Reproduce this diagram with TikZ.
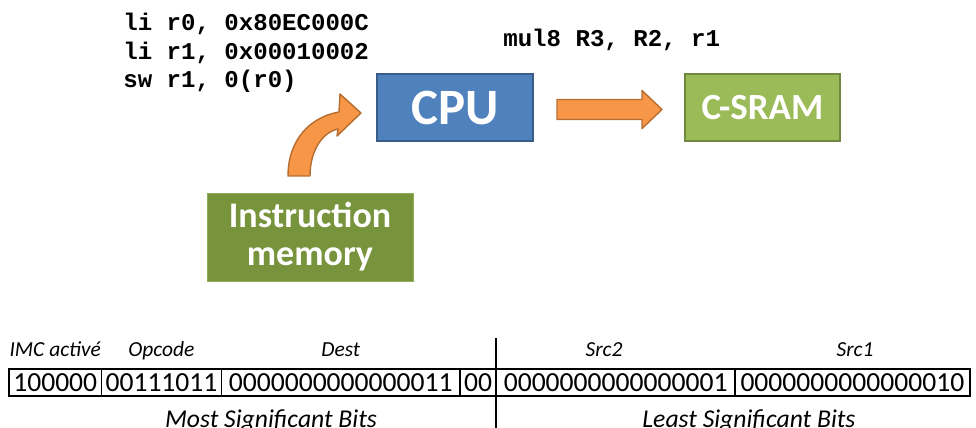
\documentclass[tikz,border=0pt]{standalone}
\usepackage{fontspec}
\setmainfont{Carlito}
\newfontfamily\codefont{Liberation Mono}
\usetikzlibrary{positioning,calc}
\definecolor{cpublue}{HTML}{4F81BD}
\definecolor{cpuedge}{HTML}{385D8A}
\definecolor{sramgreen}{HTML}{9BBB59}
\definecolor{sramedge}{HTML}{71893F}
\definecolor{memgreen}{HTML}{77933C}
\definecolor{memedge}{HTML}{8FAE55}
\definecolor{arroworange}{HTML}{F79646}
\definecolor{arrowedge}{HTML}{B66D31}

\tikzset{
  unitbox/.style={draw, line width=0.9pt, text=white, inner sep=0pt},
  code/.style={anchor=base west, inner sep=0pt, font=\codefont\bfseries\fontsize{13.7}{16}\selectfont},
  cell/.style={draw, line width=0.8pt, outer sep=0pt, inner sep=0pt, minimum height=0.54cm, anchor=west, font=\fontsize{15.7}{18}\selectfont},
  field/.style={anchor=base, inner sep=0pt, font=\itshape\fontsize{12.2}{14}\selectfont},
  half/.style={anchor=base, inner sep=0pt, font=\itshape\fontsize{14.6}{17}\selectfont},
  blockarrow/.style={fill=arroworange, draw=arrowedge, line width=0.8pt, line join=round}
}

\begin{document}
\begin{tikzpicture}[x=0.02cm, y=-0.02cm]
\useasboundingbox (0,0) rectangle (976,428);

\node (line1) at (123,31) [code] {li r0, 0x80EC000C};
\node (line2) at (123,60) [code] {li r1, 0x00010002};
\node (line3) at (123,88) [code] {sw r1, 0(r0)};
\node (mul) at (503,47) [code] {mul8 R3, R2, r1};

\node (cpu) at (455,107.5) [unitbox, fill=cpublue, draw=cpuedge, minimum width=3.12cm, minimum height=1.34cm, font=\bfseries\fontsize{29}{32}\selectfont] {CPU};
\node (csram) at (762.5,107.5) [unitbox, fill=sramgreen, draw=sramedge, minimum width=3.1cm, minimum height=1.34cm, font=\bfseries\fontsize{21}{24}\selectfont] {C-SRAM};
\node (imem) at (310,237) [unitbox, fill=memgreen, draw=memedge, line width=0.5pt, minimum width=4.12cm, minimum height=1.76cm, align=center, font=\bfseries\fontsize{20.5}{21.5}\selectfont] {Instruction\\memory};

\coordinate (mid) at ($(cpu.east)!.5!(csram.west)$);
\filldraw[blockarrow] ([shift={(-52,-8)}]mid) -- ([shift={(33,-8)}]mid) -- ([shift={(33,-17)}]mid) -- ([shift={(53,2)}]mid) -- ([shift={(33,21)}]mid) -- ([shift={(33,12)}]mid) -- ([shift={(-52,12)}]mid) -- cycle;

\filldraw[blockarrow] (288,176) .. controls (288,140) and (310,117) .. (339,112) -- (340,94) -- (361,113) -- (337,136) -- (338,129) .. controls (323,132) and (310,150) .. (310,176) -- cycle;

\node (imc) at (9,382.5) [cell, minimum width=1.85cm] {100000};
\node (opc) [cell, minimum width=2.4cm, right=0pt of imc] {00111011};
\node (dst) [cell, minimum width=4.77cm, right=0pt of opc] {0000000000000011};
\node (pad) [cell, minimum width=0.73cm, right=0pt of dst] {00};
\node (srcb) [cell, minimum width=4.77cm, right=0pt of pad] {0000000000000001};
\node (srca) [cell, minimum width=4.7cm, right=0pt of srcb] {0000000000000010};

\node (limc) at (imc.north |- 0,357) [field] {IMC activé};
\node (lopc) at (opc.north |- 0,357) [field] {Opcode};
\node (ldst) at (dst.north |- 0,357) [field] {Dest};
\node (lsrcb) at (604,357) [field] {Src2};
\node (lsrca) at (855,357) [field] {Src1};

\draw[line width=1.1pt] (srcb.west |- 0,338) -- (srcb.west |- 0,428);

\node (msb) at (271,427) [half] {Most Significant Bits};
\node (lsb) at (749,427) [half] {Least Significant Bits};
\end{tikzpicture}
\end{document}
